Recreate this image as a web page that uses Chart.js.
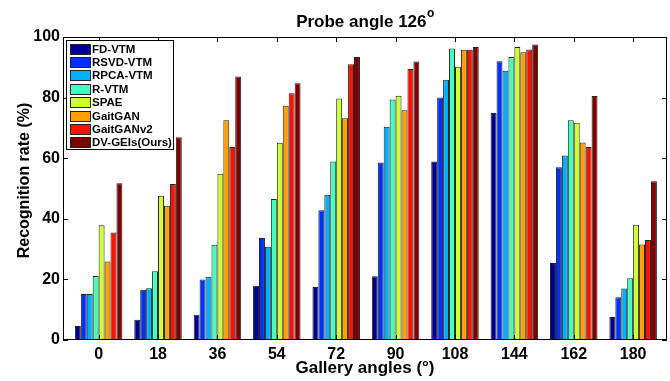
<!DOCTYPE html>
<html>
<head>
<meta charset="utf-8">
<script src="https://cdn.jsdelivr.net/npm/chart.js@4.4.1/dist/chart.umd.min.js"></script>
<style>
  html, body { margin: 0; padding: 0; background: #fff; }
  #wrap { width: 670px; height: 381px; position: relative; }
</style>
</head>
<body>
<div id="wrap"><canvas id="chart" width="670" height="381"></canvas></div>
<script>
const galleryAngles = ['0', '18', '36', '54', '72', '90', '108', '144', '162', '180'];
const methods = ['FD-VTM', 'RSVD-VTM', 'RPCA-VTM', 'R-VTM', 'SPAE', 'GaitGAN', 'GaitGANv2', 'DV-GEIs(Ours)'];
const yTicks = [0, 20, 40, 60, 80, 100];

const fdVtm     = [4.6, 6.7, 8.3, 17.9, 17.5, 21.0, 58.9, 74.9, 25.4, 7.6];
const rsvdVtm   = [15.2, 16.6, 20.0, 33.7, 42.8, 58.6, 80.0, 92.0, 57.0, 14.1];
const rpcaVtm   = [15.2, 17.1, 20.9, 30.8, 47.9, 70.4, 85.9, 88.9, 60.9, 17.0];
const rVtm      = [21.1, 22.7, 31.4, 46.5, 58.9, 79.4, 96.2, 93.4, 72.5, 20.4];
const spae      = [37.9, 47.6, 54.9, 65.1, 79.7, 80.6, 90.2, 96.7, 71.7, 38.0];
const gaitGan   = [25.9, 44.3, 72.5, 77.3, 73.2, 75.8, 95.8, 95.0, 65.2, 31.5];
const gaitGanV2 = [35.5, 51.5, 63.7, 81.4, 91.0, 89.4, 95.8, 95.9, 63.7, 33.0];
const dvGeis    = [51.7, 66.9, 87.0, 84.7, 93.4, 91.9, 96.7, 97.5, 80.5, 52.4];

const seriesValues = [fdVtm, rsvdVtm, rpcaVtm, rVtm, spae, gaitGan, gaitGanV2, dvGeis];
const colors = ['#000090', '#0030FF', '#00B0FF', '#40FFBF', '#CFFF30', '#FFA000', '#FF1000', '#800000'];

const FONT = '"Liberation Sans", Arial, sans-serif';

// groups sit at x = 1..10 like matlab's bar(), with its slightly odd xlim
const xPositions = galleryAngles.map((a, i) => i + 1);

// box, inward ticks, title, axis labels and legend drawn by hand (matlab look)
const matlabDecor = {
  id: 'matlabDecor',
  afterDraw(chart) {
    const ctx = chart.ctx;
    const a = chart.chartArea;
    const xs = chart.scales.x, ys = chart.scales.y;
    ctx.save();

    // axes box
    ctx.strokeStyle = '#000';
    ctx.lineWidth = 1;
    ctx.strokeRect(a.left + 0.5, a.top + 0.5, a.right - a.left - 1, a.bottom - a.top - 1);

    // inward ticks
    ctx.beginPath();
    const tl = 5;
    yTicks.forEach(v => {
      const y = Math.round(ys.getPixelForValue(v)) + 0.5;
      ctx.moveTo(a.left, y); ctx.lineTo(a.left + tl, y);
      ctx.moveTo(a.right, y); ctx.lineTo(a.right - tl, y);
    });
    xPositions.forEach(v => {
      const x = Math.round(xs.getPixelForValue(v)) + 0.5;
      ctx.moveTo(x, a.top); ctx.lineTo(x, a.top + tl);
      ctx.moveTo(x, a.bottom); ctx.lineTo(x, a.bottom - tl);
    });
    ctx.stroke();

    ctx.fillStyle = '#000';
    // title with superscript o
    const cx = (a.left + a.right) / 2;
    const main = 'Probe angle 126';
    ctx.font = 'bold 17px ' + FONT;
    const w1 = ctx.measureText(main).width;
    ctx.font = 'bold 12px ' + FONT;
    const w2 = ctx.measureText('o').width;
    const x0 = cx - (w1 + w2) / 2;
    ctx.textBaseline = 'alphabetic';
    ctx.textAlign = 'left';
    ctx.font = 'bold 17px ' + FONT;
    ctx.fillText(main, x0, 27);
    ctx.font = 'bold 12px ' + FONT;
    ctx.fillText('o', x0 + w1 + 0.5, 17);

    // axis titles
    ctx.font = 'bold 17px ' + FONT;
    ctx.textAlign = 'center';
    ctx.fillText('Gallery angles (°)', cx, 373);
    ctx.save();
    ctx.translate(29, (a.top + a.bottom) / 2 - 8);
    ctx.rotate(-Math.PI / 2);
    ctx.font = 'bold 16px ' + FONT;
    ctx.fillText('Recognition rate (%)', 0, 0);
    ctx.restore();

    // legend
    const lx = 66, ly = 40, lw = 107, lh = 109;
    ctx.fillStyle = '#fff';
    ctx.fillRect(lx, ly, lw, lh);
    ctx.strokeStyle = '#000';
    ctx.strokeRect(lx + 0.5, ly + 0.5, lw, lh);
    ctx.font = 'bold 11.5px ' + FONT;
    ctx.textAlign = 'left';
    ctx.textBaseline = 'middle';
    methods.forEach((m, i) => {
      const yc = 48.5 + i * 13.4;
      const top = Math.round(yc - 5);
      ctx.fillStyle = colors[i];
      ctx.fillRect(70, top, 21, 11);
      ctx.strokeStyle = '#222';
      ctx.strokeRect(70.5, top + 0.5, 20, 10);
      ctx.fillStyle = '#000';
      ctx.fillText(m, 92, yc + 1);
    });
    ctx.restore();
  }
};

new Chart(document.getElementById('chart').getContext('2d'), {
  type: 'bar',
  data: {
    datasets: methods.map((m, i) => ({
      label: m,
      data: seriesValues[i].map((v, j) => ({ x: xPositions[j], y: v })),
      backgroundColor: colors[i],
      borderColor: '#222',
      borderWidth: 1,
      borderSkipped: false,
      categoryPercentage: 0.8,
      barPercentage: 1.0
    }))
  },
  options: {
    responsive: false,
    animation: false,
    layout: { padding: { top: 37, right: 3, left: 0, bottom: 0 } },
    plugins: {
      legend: { display: false },
      title: { display: false },
      tooltip: { enabled: false }
    },
    scales: {
      x: {
        type: 'linear',
        offset: false,
        min: 0.4,
        max: 10.57,
        grid: { display: false, drawTicks: false, tickLength: 0 },
        border: { display: false },
        afterBuildTicks(scale) { scale.ticks = xPositions.map(v => ({ value: v })); },
        ticks: {
          color: '#000',
          font: { family: FONT, size: 16, weight: 'bold' },
          padding: 5,
          maxRotation: 0,
          autoSkip: false,
          callback: (v) => galleryAngles[v - 1]
        },
        afterFit(scale) { scale.height = 41; }
      },
      y: {
        min: 0,
        max: 100,
        grid: { display: false, drawTicks: false, tickLength: 0 },
        border: { display: false },
        afterBuildTicks(scale) { scale.ticks = yTicks.map(v => ({ value: v })); },
        ticks: {
          color: '#000',
          font: { family: FONT, size: 16, weight: 'bold' },
          padding: 3
        },
        afterFit(scale) { scale.width = 63; }
      }
    }
  },
  plugins: [matlabDecor]
});
</script>
</body>
</html>
